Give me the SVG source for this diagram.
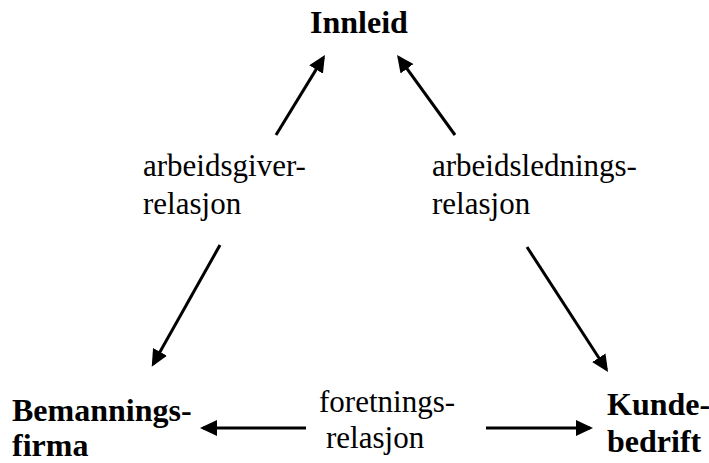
<svg xmlns="http://www.w3.org/2000/svg" width="709" height="463" viewBox="0 0 709 463">
  <style>
    .node { font-family: "Liberation Serif", "Times New Roman", serif; font-weight: bold; font-size: 32px; fill: #000; }
    .lbl { font-family: "Liberation Serif", "Times New Roman", serif; font-size: 31px; fill: #000; }
    .conn { stroke: #000; stroke-width: 3; fill: none; marker-end: url(#ah); }
  </style>
  <defs>
    <marker id="ah" markerUnits="userSpaceOnUse" markerWidth="17" markerHeight="16" refX="14" refY="8" orient="auto" viewBox="0 0 17 16">
      <path d="M0,0 L17,8 L0,16 z" fill="#000"/>
    </marker>
  </defs>
  <rect width="709" height="463" fill="#fff"/>
  <g id="innleid"><text class="node" x="310" y="33">Innleid</text></g>
  <g id="bemanningsfirma"><text class="node" x="12" y="421">Bemannings-</text><text class="node" x="12" y="456">firma</text></g>
  <g id="kundebedrift"><text class="node" x="607" y="415">Kunde-</text><text class="node" x="607" y="452">bedrift</text></g>
  <g id="labels">
    <text class="lbl" x="143" y="176">arbeidsgiver-</text>
    <text class="lbl" x="143" y="214">relasjon</text>
    <text class="lbl" x="432" y="176">arbeidslednings-</text>
    <text class="lbl" x="432" y="214">relasjon</text>
    <text class="lbl" x="319" y="412">foretnings-</text>
    <text class="lbl" x="326" y="448">relasjon</text>
  </g>
  <g id="connectors">
    <line class="conn" x1="276" y1="135" x2="323.4" y2="57.6"/>
    <line class="conn" x1="455" y1="135" x2="398.8" y2="57.4"/>
    <line class="conn" x1="220" y1="245" x2="153.2" y2="364.1"/>
    <line class="conn" x1="527" y1="247" x2="606.4" y2="369.5"/>
    <line class="conn" x1="306" y1="428" x2="203" y2="428"/>
    <line class="conn" x1="486" y1="428" x2="590" y2="428"/>
  </g>
</svg>
